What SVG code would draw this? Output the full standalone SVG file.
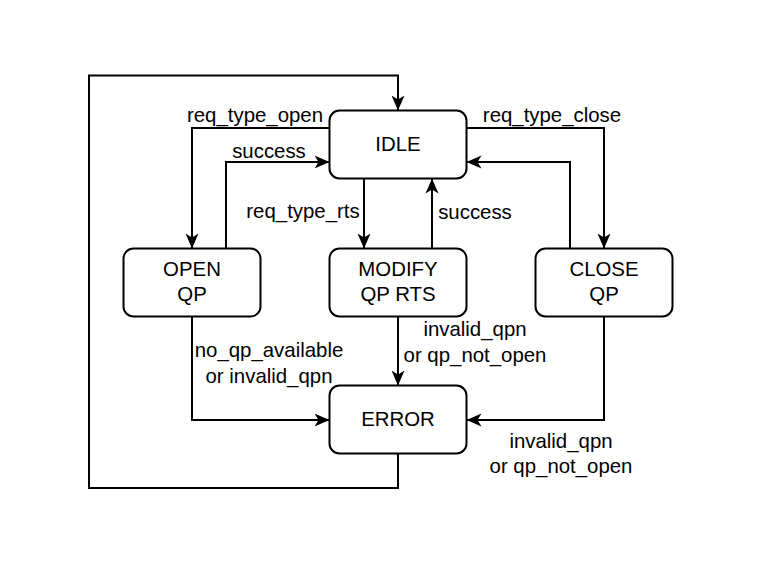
<svg xmlns="http://www.w3.org/2000/svg" width="762" height="562" viewBox="0 0 762 562">
<style>
.node rect{fill:#fff;stroke:#000;stroke-width:2}
text{font-family:"Liberation Sans",Arial,sans-serif;font-size:20.4px;fill:#000;text-anchor:middle}
.edge{fill:none;stroke:#000;stroke-width:2;marker-end:url(#arr)}
</style>
<defs>
<marker id="arr" markerUnits="userSpaceOnUse" markerWidth="16" markerHeight="14" refX="15" refY="7" orient="auto">
<path d="M0,0.5 L15,7 L0,13.5 L4,7 Z" fill="#000"/>
</marker>
</defs>
<rect width="762" height="562" fill="#fff"/>
<g id="connectors">
<path class="edge" d="M398,453.5 V488 H89 V75.5 H398 V110.5"/>
<path class="edge" d="M329.5,128 H192 V248.5"/>
<path class="edge" d="M226,248.5 V162 H329.5"/>
<path class="edge" d="M364,178.5 V248.5"/>
<path class="edge" d="M432,248.5 V178.5"/>
<path class="edge" d="M466.5,128 H604 V248.5"/>
<path class="edge" d="M570,248.5 V162 H466.5"/>
<path class="edge" d="M192,316.5 V420 H329.5"/>
<path class="edge" d="M398,316.5 V385.5"/>
<path class="edge" d="M604,316.5 V420 H466.5"/>
</g>
<g id="labels">
<text x="255" y="122">req_type_open</text>
<text x="269" y="158">success</text>
<text x="303" y="218">req_type_rts</text>
<text x="475" y="219">success</text>
<text x="552" y="122">req_type_close</text>
<text x="269" y="357">no_qp_available</text>
<text x="269" y="383">or invalid_qpn</text>
<text x="475" y="336">invalid_qpn</text>
<text x="475" y="362">or qp_not_open</text>
<text x="561" y="448">invalid_qpn</text>
<text x="561" y="473">or qp_not_open</text>
</g>
<g id="idle" class="node"><rect x="329.5" y="110.5" width="137" height="68" rx="10"/><text x="398" y="151">IDLE</text></g>
<g id="open_qp" class="node"><rect x="123.5" y="248.5" width="137" height="68" rx="10"/><text x="192" y="276">OPEN</text><text x="192" y="301">QP</text></g>
<g id="modify_qp_rts" class="node"><rect x="329.5" y="248.5" width="137" height="68" rx="10"/><text x="398" y="276">MODIFY</text><text x="398" y="301">QP RTS</text></g>
<g id="close_qp" class="node"><rect x="535.5" y="248.5" width="137" height="68" rx="10"/><text x="604" y="276">CLOSE</text><text x="604" y="301">QP</text></g>
<g id="error" class="node"><rect x="329.5" y="385.5" width="137" height="68" rx="10"/><text x="398" y="426">ERROR</text></g>
</svg>
